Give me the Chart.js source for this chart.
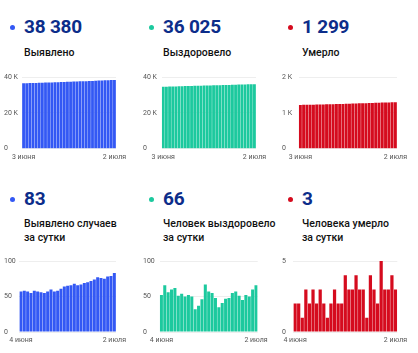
<!DOCTYPE html>
<html lang="ru">
<head>
    <meta charset="UTF-8">
    <title>Коронавирус: статистика</title>
    <script src="https://cdn.jsdelivr.net/npm/chart.js"></script>
    <style>
        html, body {
            margin: 0;
            padding: 0;
            background: #fff;
            font-family: Roboto, Arial, sans-serif;
        }
        #wrap {
            position: relative;
            width: 418px;
            height: 353px;
            overflow: hidden;
        }
        .panel {
            position: absolute;
            width: 139px;
            height: 176px;
        }
        .dot {
            position: absolute;
            left: 10px;
            width: 5px;
            height: 5px;
            border-radius: 50%;
        }
        .num {
            position: absolute;
            left: 24px;
            font-size: 19px;
            font-weight: 700;
            color: #0c2d8a;
            letter-spacing: -0.2px;
            line-height: 20px;
            white-space: nowrap;
        }
        .label {
            position: absolute;
            left: 24px;
            font-size: 10.5px;
            font-weight: 500;
            color: #111;
            line-height: 14px;
            white-space: nowrap;
        }
        canvas {
            position: absolute;
            left: 0;
        }
    </style>
</head>
<body>
<div id="wrap"></div>

<script>
    // dates
    const daysFrom3 = ["3 июня","4 июня","5 июня","6 июня","7 июня","8 июня","9 июня","10 июня","11 июня","12 июня",
        "13 июня","14 июня","15 июня","16 июня","17 июня","18 июня","19 июня","20 июня","21 июня","22 июня",
        "23 июня","24 июня","25 июня","26 июня","27 июня","28 июня","29 июня","30 июня","1 июля","2 июля"];
    const daysFrom4 = daysFrom3.slice(1);

    // cumulative totals (3 июня - 2 июля)
    const totalCases = [36485,36542,36600,36657,36712,36770,36827,36883,36938,36995,
        37055,37112,37170,37231,37295,37360,37426,37494,37560,37627,
        37696,37766,37838,37912,37989,38065,38140,38218,38297,38380];
    const totalRecovered = [34523,34575,34641,34697,34757,34819,34870,34924,34974,35026,
        35076,35108,35145,35191,35258,35315,35370,35418,35453,35494,
        35541,35589,35644,35701,35752,35797,35849,35899,35959,36025];
    const totalDeaths = [1221,1223,1225,1226,1229,1231,1234,1236,1239,1241,
        1242,1244,1247,1249,1251,1255,1258,1261,1265,1268,
        1271,1272,1276,1279,1281,1286,1289,1292,1296,1299];

    // per day (4 июня - 2 июля)
    const dailyCases = [57,58,57,55,58,57,56,55,57,60,57,58,61,64,65,66,68,66,67,69,70,72,74,77,76,75,78,79,83];
    const dailyRecovered = [52,66,56,60,62,51,54,50,52,50,32,37,46,67,57,55,48,35,41,47,48,55,57,51,45,52,50,60,66];
    const dailyDeaths = [2,2,1,3,2,3,2,3,2,1,2,3,2,2,4,3,3,4,3,3,1,4,3,2,5,3,3,4,3];

    const blue = "#3358f4";
    const teal = "#1cc99e";
    const red = "#d50b1e";

    const panels = [
        { x: 0,   y: 0,   num: "38 380", title: ["Выявлено"], color: blue, labels: daysFrom3, data: totalCases,
          max: 40000, step: 20000, k: true, area: [22, 116, 76.7, 148.7] },
        { x: 139, y: 0,   num: "36 025", title: ["Выздоровело"], color: teal, labels: daysFrom3, data: totalRecovered,
          max: 40000, step: 20000, k: true, area: [22.7, 117, 76.7, 148.7] },
        { x: 278, y: 0,   num: "1 299", title: ["Умерло"], color: red, labels: daysFrom3, data: totalDeaths,
          max: 2000, step: 1000, k: true, area: [20.7, 119, 76.7, 148.7] },
        { x: 0,   y: 176, num: "83", title: ["Выявлено случаев", "за сутки"], color: blue, labels: daysFrom4, data: dailyCases,
          max: 100, step: 50, k: false, area: [19.3, 116, 84.7, 156] },
        { x: 139, y: 176, num: "66", title: ["Человек выздоровело", "за сутки"], color: teal, labels: daysFrom4, data: dailyRecovered,
          max: 100, step: 50, k: false, area: [20.7, 118.7, 84.7, 156] },
        { x: 278, y: 176, num: "3", title: ["Человека умерло", "за сутки"], color: red, labels: daysFrom4, data: dailyDeaths,
          max: 5, step: 5, k: false, area: [15.3, 119.3, 84.7, 156] }
    ];

    const wrap = document.getElementById("wrap");

    panels.forEach(function (p, i) {
        const div = document.createElement("div");
        div.className = "panel";
        div.style.left = p.x + "px";
        div.style.top = p.y + "px";

        const twoLines = p.title.length > 1;
        const numY = twoLines ? 12.5 : 17;
        const titleY = twoLines ? 40.5 : 46;

        div.innerHTML =
            '<div class="dot" style="background:' + p.color + ';top:' + (numY + 8) + 'px"></div>' +
            '<div class="num" style="top:' + numY + 'px">' + p.num + '</div>' +
            '<div class="label" style="top:' + titleY + 'px">' + p.title.join("<br>") + '</div>';

        // canvas spans the chart part of the panel
        const cTop = p.area[2] - 8;
        const cHeight = 176 - cTop;
        const canvas = document.createElement("canvas");
        canvas.width = 139;
        canvas.height = cHeight;
        canvas.style.width = "139px";
        canvas.style.height = cHeight + "px";
        canvas.style.top = cTop + "px";
        div.appendChild(canvas);
        wrap.appendChild(div);

        const left = p.area[0], right = p.area[1];
        const top = p.area[2] - cTop, bottom = p.area[3] - cTop;
        const xHeight = 12;

        new Chart(canvas.getContext("2d"), {
            type: "bar",
            data: {
                labels: p.labels,
                datasets: [{
                    data: p.data,
                    backgroundColor: p.color,
                    borderWidth: 0,
                    barPercentage: 0.9,
                    categoryPercentage: 1.0
                }]
            },
            options: {
                responsive: false,
                animation: false,
                events: [],
                layout: {
                    padding: { left: 4, right: 139 - right, top: top, bottom: cHeight - bottom - xHeight }
                },
                plugins: { legend: { display: false }, tooltip: { enabled: false } },
                scales: {
                    x: {
                        grid: { display: false, drawTicks: false },
                        border: { display: false },
                        ticks: {
                            autoSkip: false,
                            maxRotation: 0,
                            padding: 4,
                            color: "#555",
                            font: { family: "Roboto", size: 7 },
                            callback: function (v, idx) {
                                if (idx === 0 || idx === p.labels.length - 1) return p.labels[idx];
                                return null;
                            }
                        },
                        afterFit: function (s) {
                            s.height = xHeight;
                            s.paddingLeft = 0;
                            s.paddingRight = 0;
                        }
                    },
                    y: {
                        min: 0,
                        max: p.max,
                        grid: { color: "#eeeeee", drawTicks: false, lineWidth: 1 },
                        border: { display: false },
                        ticks: {
                            stepSize: p.step,
                            crossAlign: "far",
                            padding: 3,
                            color: "#555",
                            font: { family: "Roboto", size: 7 },
                            callback: function (v) {
                                if (p.k) return v === 0 ? "0" : (v / 1000) + " K";
                                return v;
                            }
                        },
                        afterFit: function (s) {
                            s.width = left - 4;
                            s.paddingTop = 0;
                            s.paddingBottom = 0;
                        }
                    }
                }
            }
        });
    });
</script>
</body>
</html>
